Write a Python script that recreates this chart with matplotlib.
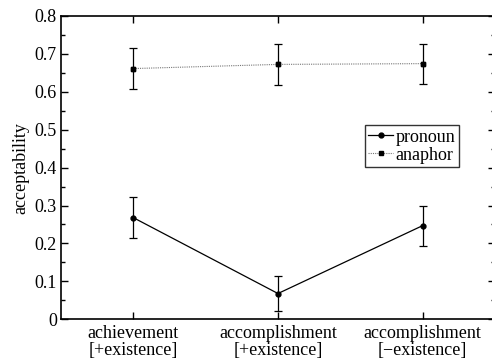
import matplotlib
matplotlib.use("Agg")
import matplotlib.pyplot as plt
from matplotlib.ticker import MultipleLocator, FuncFormatter
from matplotlib.lines import Line2D
from matplotlib import font_manager

plt.rcParams['font.family'] = 'serif'
plt.rcParams['font.serif'] = ['Liberation Serif', 'Times New Roman', 'DejaVu Serif']
plt.rcParams['font.size'] = 13
print(font_manager.findfont('serif'))

categories = ["achievement\n[+existence]", "accomplishment\n[+existence]", "accomplishment\n[\u2212existence]"]
pronoun = [0.268, 0.068, 0.247]
pronoun_err = [0.054, 0.047, 0.053]
anaphor = [0.661, 0.672, 0.674]
anaphor_err = [0.053, 0.053, 0.053]

x = list(range(1, len(categories) + 1))

fig = plt.figure(figsize=(4.92, 3.60), dpi=100)
ax = fig.add_axes([0.124, 0.113, 0.882, 0.843])

ax.errorbar(x, pronoun, yerr=pronoun_err, color='black', lw=0.9, marker='o',
            markersize=3.5, capsize=3, elinewidth=0.9, capthick=0.9)
ax.errorbar(x, anaphor, yerr=anaphor_err, color='black', ls='none', marker='s',
            markersize=3, capsize=3, elinewidth=0.9, capthick=0.9)
ax.plot(x, anaphor, color='#777777', lw=0.8, ls=(0, (1, 1)), marker='s',
        markersize=3, markerfacecolor='black', markeredgecolor='black')

ax.set_xlim(0.5, 3.5)
ax.set_ylim(0, 0.8)
ax.set_xticks(x)
ax.set_xticklabels(categories, linespacing=1.0)
ax.yaxis.set_major_locator(MultipleLocator(0.1))
ax.yaxis.set_minor_locator(MultipleLocator(0.05))
ax.yaxis.set_major_formatter(FuncFormatter(lambda v, p: '0' if abs(v) < 1e-9 else f"{v:.1f}"))
ax.tick_params(axis='both', which='both', direction='in', top=True, right=True)
ax.tick_params(axis='both', which='major', length=5, width=1, pad=3)
ax.tick_params(axis='y', which='minor', length=3, width=1)
ax.tick_params(axis='x', pad=4)
for s in ax.spines.values():
    s.set_linewidth(1.2)

ax.set_ylabel('acceptability', labelpad=4)

handles = [
    Line2D([], [], color='black', lw=0.9, marker='o', markersize=3.5),
    Line2D([], [], color='#777777', lw=0.8, ls=(0, (1, 1)), marker='s', markersize=3,
           markerfacecolor='black', markeredgecolor='black'),
]
leg = ax.legend(handles, ['pronoun', 'anaphor'], loc='upper left',
                bbox_to_anchor=(0.700, 0.640), borderaxespad=0, fancybox=False,
                framealpha=1, edgecolor='#333333', handlelength=1.35, handletextpad=0.15,
                borderpad=0.2, labelspacing=0.05)
leg.get_frame().set_linewidth(1.0)

fig.savefig('out.png', dpi=100)
